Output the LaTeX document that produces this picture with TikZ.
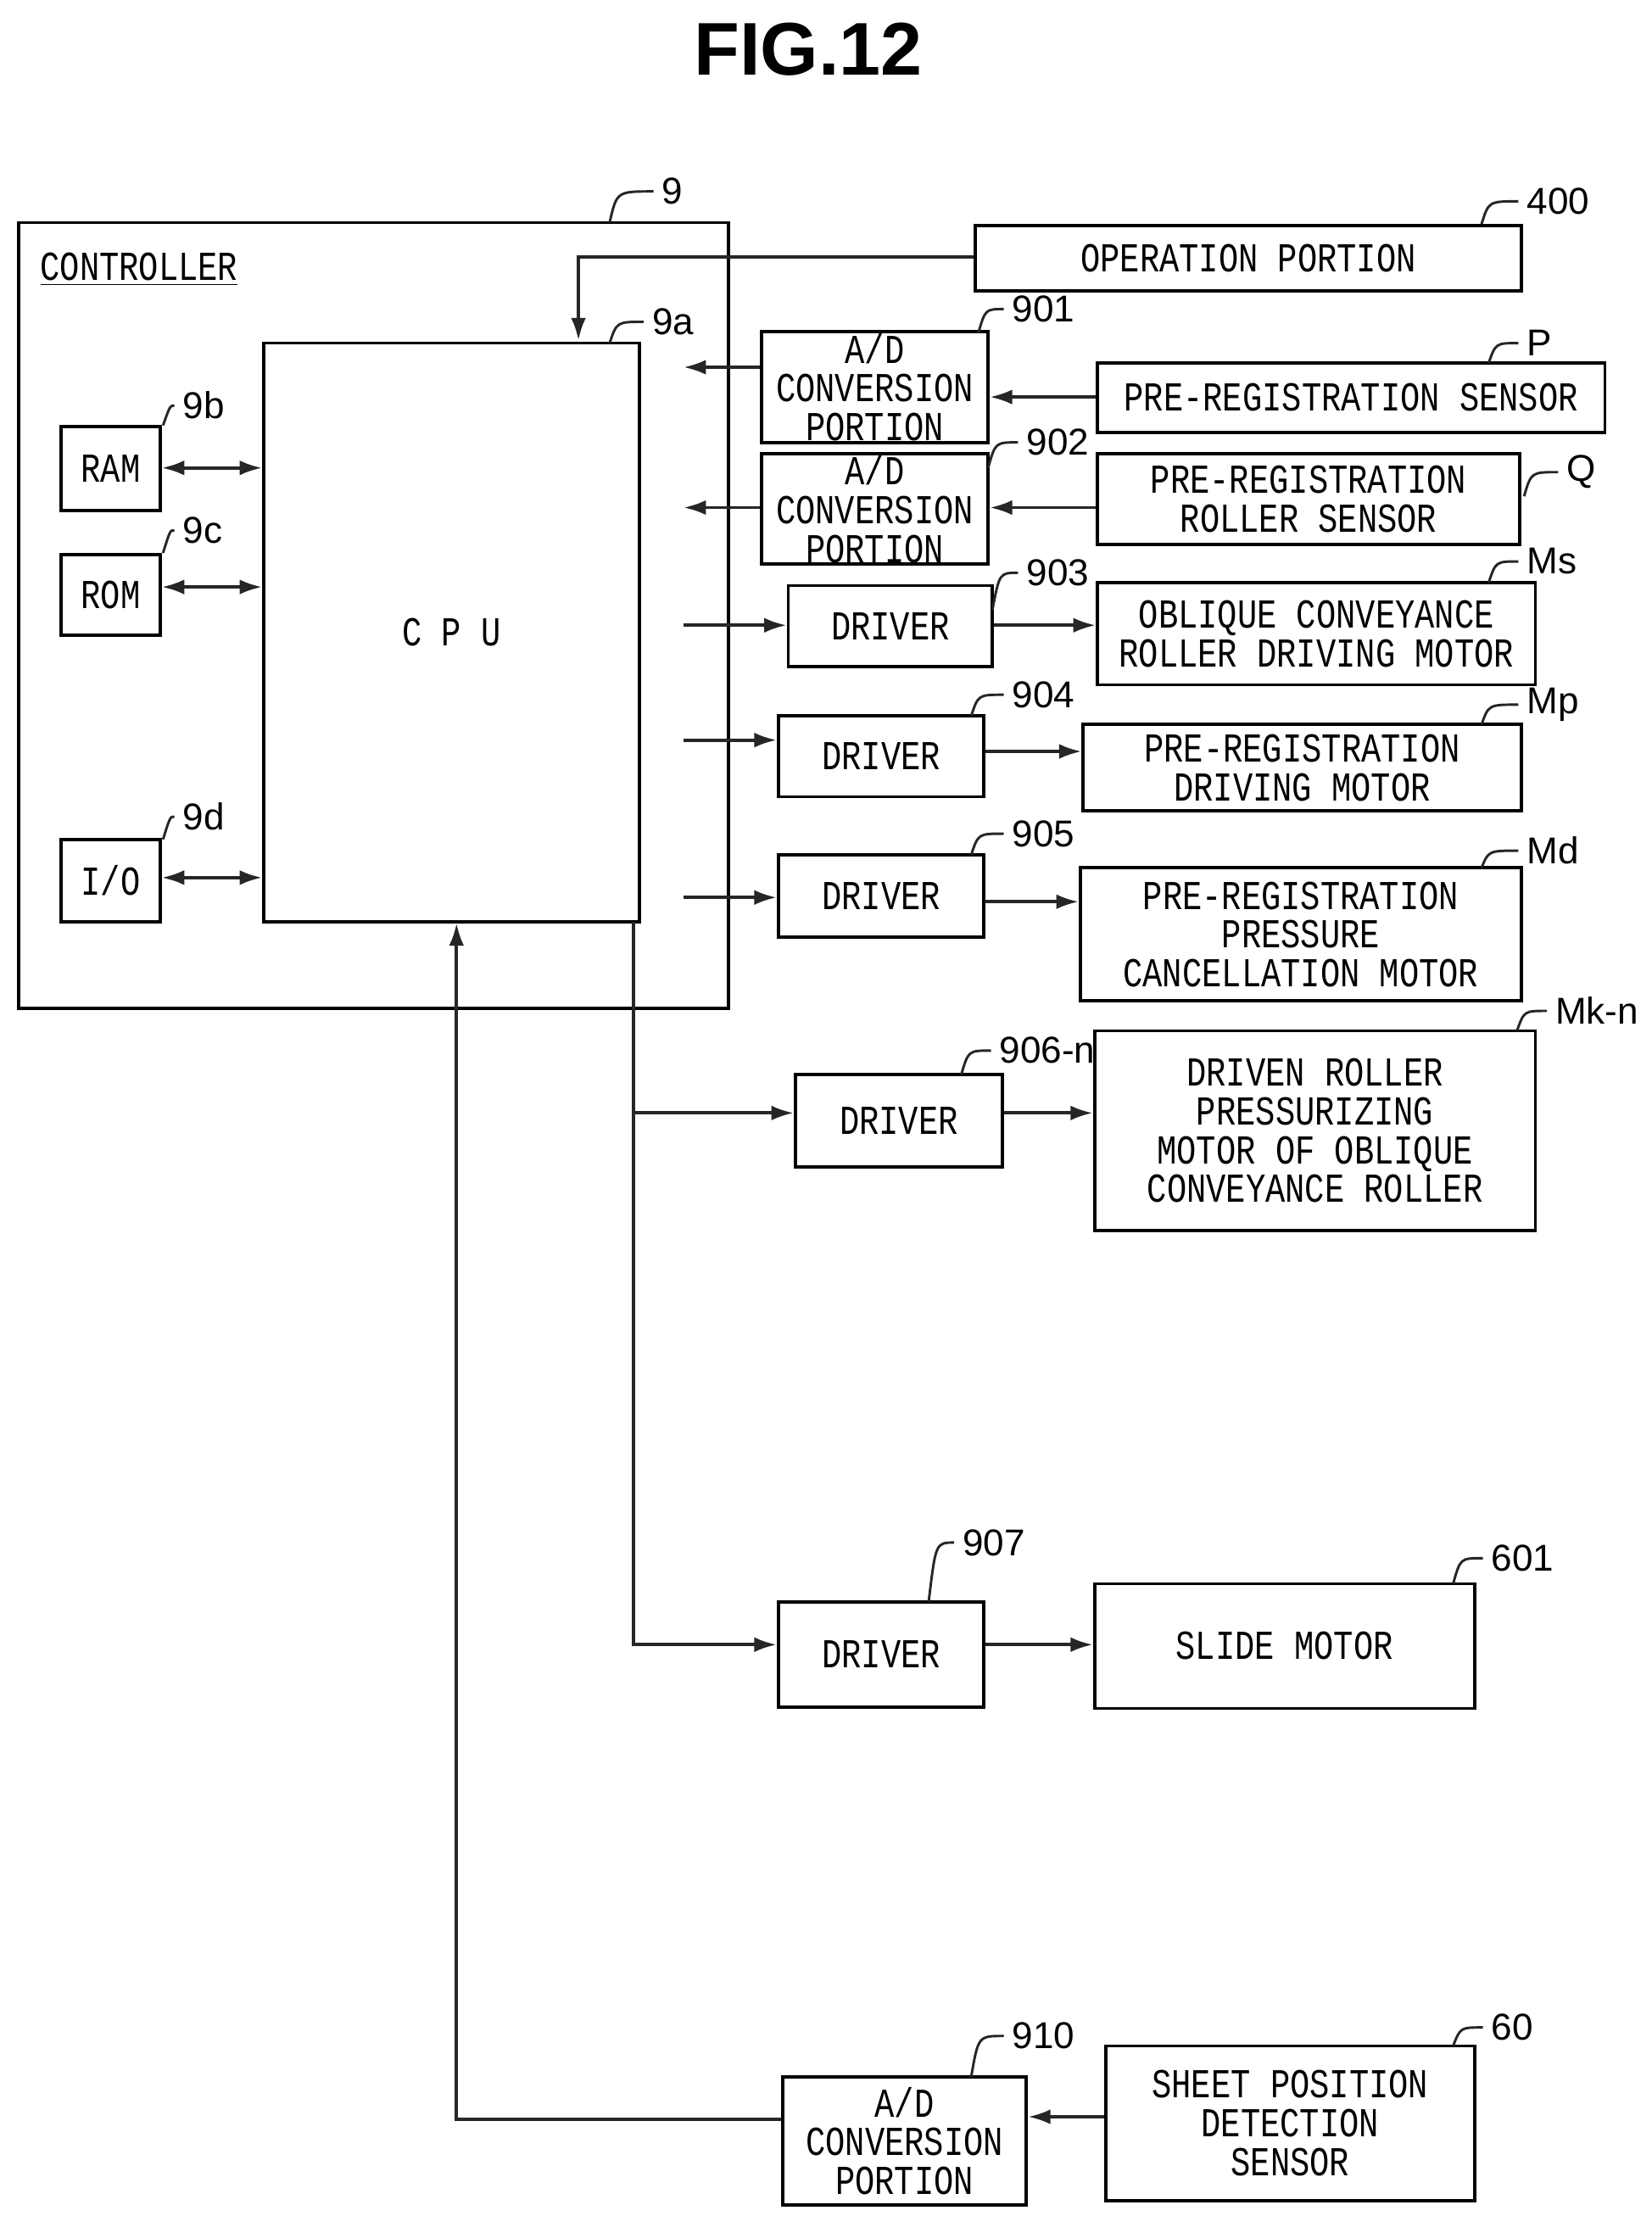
\documentclass[tikz,border=0pt]{standalone}
\usepackage{fontspec}
\setmainfont{Liberation Sans}
\newfontfamily\lab[FakeStretch=0.8]{Liberation Mono}
\usetikzlibrary{arrows.meta}
\tikzset{
 box/.style={draw,line width=1.3pt,inner sep=0pt,align=center,font=\lab\fontsize{16.5}{15.5}\selectfont},
 ln/.style={line width=1.3pt,draw=black!85},
 ar/.style={ln,-{Latex[length=9pt,width=6pt]}},
 dar/.style={ln,{Latex[length=9pt,width=6pt]}-{Latex[length=9pt,width=6pt]}},
 num/.style={font=\fontsize{15}{15}\selectfont,anchor=west,inner sep=1pt}
}
\newcommand\bx[6]{\node[box,minimum width={(#4-#2)*0.02cm},minimum height={(#5-#3)*0.02cm}] (#1) at ({(#2+#4)/2},{(#3+#5)/2}) {#6};}
\newcommand\lbl[5]{\draw[ln,line width=1pt] (#4,#5) .. controls (#4+5,#3) .. (#2-4,#3); \node[num] (l#1) at (#2,#3) {#1};}
\begin{document}
\begin{tikzpicture}[x=0.02cm,y=-0.02cm]
\useasboundingbox (0,0) rectangle (1165,1563);
\node[font=\bfseries\fontsize{30}{30}\selectfont] (title) at (570,35) {FIG.12};
\bx{ctrl}{13}{157}{514}{711}{}
\node[font=\lab\fontsize{16.5}{15.5}\selectfont] (ctl) at (98,190) {\underline{CONTROLLER}};
\bx{cpu}{186}{242}{451}{650}{C P U}
\bx{ram}{43}{301}{113}{360}{RAM}
\bx{rom}{43}{391}{113}{448}{ROM}
\bx{io}{43}{592}{113}{650}{I/O}
\bx{op}{688}{159}{1073}{205}{OPERATION PORTION}
\bx{ad1}{537}{234}{697}{312}{A/D\\CONVERSION\\PORTION}
\bx{ps}{774}{256}{1132}{305}{PRE-REGISTRATION SENSOR}
\bx{ad2}{537}{320}{697}{398}{A/D\\CONVERSION\\PORTION}
\bx{prs}{774}{320}{1072}{384}{PRE-REGISTRATION\\ROLLER SENSOR}
\bx{d3}{556}{413}{700}{470}{DRIVER}
\bx{ms}{774}{411}{1083}{483}{OBLIQUE CONVEYANCE\\ROLLER DRIVING MOTOR}
\bx{d4}{549}{505}{694}{562}{DRIVER}
\bx{mp}{764}{511}{1073}{572}{PRE-REGISTRATION\\DRIVING MOTOR}
\bx{d5}{549}{603}{694}{661}{DRIVER}
\bx{md}{762}{612}{1073}{706}{PRE-REGISTRATION\\PRESSURE\\CANCELLATION MOTOR}
\bx{d6}{561}{758}{707}{823}{DRIVER}
\bx{mk}{772}{727}{1083}{868}{DRIVEN ROLLER\\PRESSURIZING\\MOTOR OF OBLIQUE\\CONVEYANCE ROLLER}
\bx{d7}{549}{1130}{694}{1204}{DRIVER}
\bx{sm}{772}{1117}{1040}{1205}{SLIDE MOTOR}
\bx{ad10}{552}{1465}{724}{1555}{A/D\\CONVERSION\\PORTION}
\bx{sps}{780}{1443}{1040}{1552}{SHEET POSITION\\DETECTION\\SENSOR}
% connectors
\draw[ar] (op.west|-0,181) -| (408,240);
\draw[ar] (ps.west|-0,280) -- (ad1.east|-0,280);
\draw[ar,shorten >=30*0.02cm] (ad1.west|-0,259) -- (cpu.east|-0,259);
\draw[ar] (prs.west|-0,358) -- (ad2.east|-0,358);
\draw[ar,shorten >=30*0.02cm] (ad2.west|-0,358) -- (cpu.east|-0,358);
\draw[ar,shorten <=30*0.02cm] (cpu.east|-0,441) -- (d3.west|-0,441);
\draw[ar] (d3.east|-0,441) -- (ms.west|-0,441);
\draw[ar,shorten <=30*0.02cm] (cpu.east|-0,522) -- (d4.west|-0,522);
\draw[ar] (d4.east|-0,530) -- (mp.west|-0,530);
\draw[ar,shorten <=30*0.02cm] (cpu.east|-0,633) -- (d5.west|-0,633);
\draw[ar] (d5.east|-0,636) -- (md.west|-0,636);
\coordinate (br) at (447,650);
\draw[ar] (br) |- (d6.west|-0,785);
\draw[ar] (br) |- (d7.west|-0,1160);
\draw[ar] (d6.east|-0,785) -- (mk.west|-0,785);
\draw[ar] (d7.east|-0,1160) -- (sm.west|-0,1160);
\draw[ar] (sps.west|-0,1493) -- (ad10.east|-0,1493);
\draw[ar] (ad10.west|-0,1495) -| (cpu.south-|322,0);
\draw[dar] (ram.east|-0,330) -- (cpu.west|-0,330);
\draw[dar] (rom.east|-0,414) -- (cpu.west|-0,414);
\draw[dar] (io.east|-0,619) -- (cpu.west|-0,619);
% labels
\lbl{9}{465}{135}{430}{157}
\lbl{9a}{458}{227}{430}{242}
\lbl{9b}{127}{286}{115}{300}
\lbl{9c}{127}{374}{115}{390}
\lbl{9d}{127}{576}{115}{592}
\lbl{400}{1075}{142}{1045}{158}
\lbl{901}{712}{218}{690}{235}
\lbl{P}{1075}{242}{1050}{256}
\lbl{902}{722}{312}{697}{330}
\lbl{Q}{1103}{333}{1075}{350}
\lbl{903}{722}{404}{700}{430}
\lbl{Ms}{1075}{396}{1050}{411}
\lbl{904}{712}{490}{685}{505}
\lbl{Mp}{1075}{497}{1045}{511}
\lbl{905}{712}{588}{685}{603}
\lbl{Md}{1075}{600}{1045}{612}
\lbl{906-n}{703}{741}{678}{758}
\lbl{Mk-n}{1095}{713}{1070}{727}
\lbl{907}{677}{1088}{655}{1130}
\lbl{601}{1050}{1099}{1025}{1117}
\lbl{910}{712}{1436}{685}{1465}
\lbl{60}{1050}{1430}{1025}{1443}
\end{tikzpicture}
\end{document}
